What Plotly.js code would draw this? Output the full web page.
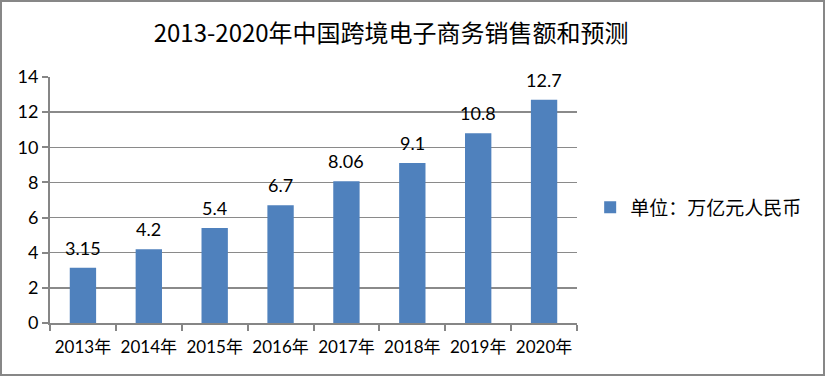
<!DOCTYPE html>
<html><head><meta charset="utf-8">
<script src="https://cdn.plot.ly/plotly-3.0.1.min.js"></script>
<style>
html,body{margin:0;padding:0;background:#fff;}
#chart{width:825px;height:376px;box-sizing:border-box;border:2px solid #878787;}
</style></head>
<body><div id="chart"></div>
<script>
const years = ['2013年','2014年','2015年','2016年','2017年','2018年','2019年','2020年'];
const sales = [3.15, 4.2, 5.4, 6.7, 8.06, 9.1, 10.8, 12.7];
const labels = ['3.15','4.2','5.4','6.7','8.06','9.1','10.8','12.7'];
const seriesName = '单位：万亿元人民币';
const titleText = '2013-2020年中国跨境电子商务销售额和预测';

const trace = {
  type:'bar', x: years, y: sales, name: seriesName,
  marker:{color:'#4F81BD'}, showlegend:true, hoverinfo:'none'
};
const annotations = years.map((c,i)=>({
  x:c, y:sales[i], xref:'x', yref:'y', text:labels[i], showarrow:false,
  yanchor:'bottom', yshift:7, font:{family:'Lato, "Liberation Sans", sans-serif', size:18, color:'#000'}
}));
const layout = {
  width:821, height:372,
  margin:{l:48, r:246, t:75, b:51},
  paper_bgcolor:'#fff', plot_bgcolor:'#fff',
  bargap:0.6,
  title:{text:titleText, x:0.474, xanchor:'center', y:0.915, yanchor:'middle',
    font:{family:'"Noto Sans CJK SC", sans-serif', size:24, color:'#000'}},
  xaxis:{type:'category', showline:true, linecolor:'#868686', linewidth:2,
    ticks:'outside', tickson:'boundaries', ticklen:6, tickcolor:'#868686', tickwidth:2,
    ticklabelstandoff:8, tickangle:0,
    tickfont:{family:'Lato, "Noto Sans CJK SC", sans-serif', size:17, color:'#000'},
    showgrid:false, fixedrange:true, automargin:false},
  yaxis:{range:[0,14], dtick:2, showline:true, linecolor:'#868686', linewidth:2,
    ticks:'outside', ticklen:6, tickcolor:'#868686', tickwidth:2,
    showgrid:true, gridcolor:'#8a8a8a', gridwidth:1.5, zeroline:false,
    tickfont:{family:'Lato, "Liberation Sans", sans-serif', size:18, color:'#000'},
    fixedrange:true, automargin:false},
  legend:{x:1.025, xanchor:'left', y:0.47, yanchor:'middle',
    font:{family:'"Noto Sans CJK SC", serif', size:19, color:'#000'}},
  annotations: annotations
};
Plotly.newPlot('chart',[trace],layout,{displayModeBar:false,staticPlot:true});
</script></body></html>
